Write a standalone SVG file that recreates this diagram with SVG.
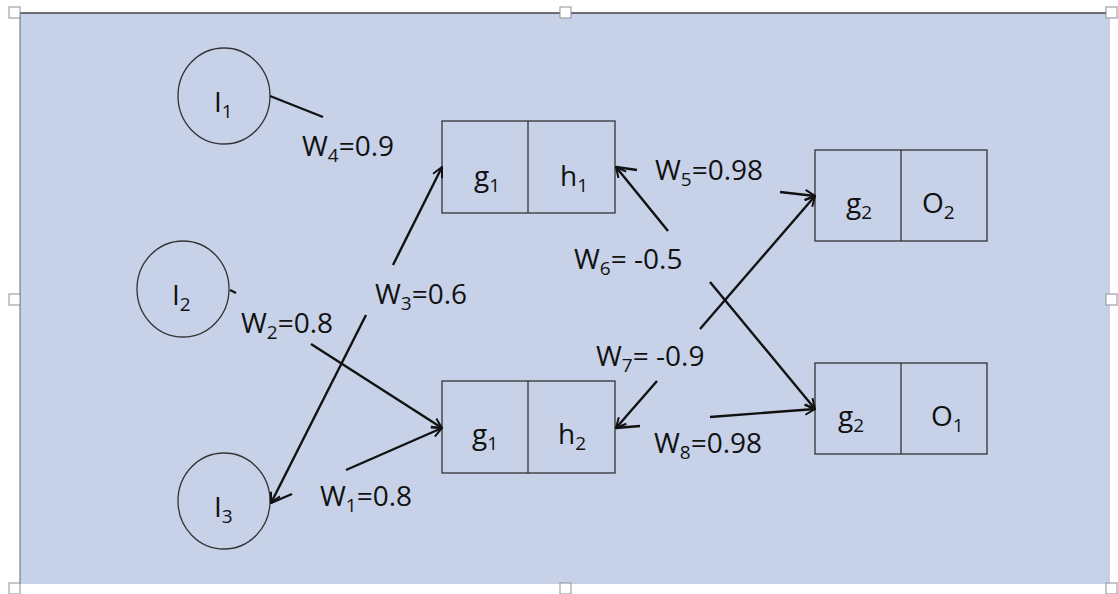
<svg xmlns="http://www.w3.org/2000/svg" width="1118" height="594" viewBox="0 0 1118 594">
<style>
.n{fill:none;stroke:#333;stroke-width:1.3}
.c line{stroke:#111;stroke-width:2.4}
text{font-family:"Open Sans","Liberation Sans",sans-serif;font-size:28px;fill:#111}
.s{font-size:19px}
.h{fill:#fff;stroke:#8a8f99;stroke-width:1}
</style>
<defs>
<marker id="a" viewBox="0 0 12 12" refX="11" refY="6" markerWidth="12" markerHeight="12" markerUnits="userSpaceOnUse" orient="auto">
<path d="M1,1 L11,6 L1,11" fill="none" stroke="#111" stroke-width="2"/>
</marker>
</defs>
<rect x="0" y="0" width="1118" height="594" fill="#fff"/>
<rect x="20" y="13" width="1090" height="571" fill="#c7d2e9"/>
<line x1="20" y1="13" x2="1110" y2="13" stroke="#444" stroke-width="1.5"/>
<line x1="20" y1="13" x2="20" y2="584" stroke="#666" stroke-width="1"/>
<g id="I1"><ellipse class="n" cx="224" cy="96" rx="46" ry="48"/><text x="214" y="112">I<tspan class="s" dy="6">1</tspan></text></g>
<g id="I2"><ellipse class="n" cx="183" cy="289" rx="46" ry="48"/><text x="172" y="305">I<tspan class="s" dy="6">2</tspan></text></g>
<g id="I3"><ellipse class="n" cx="224" cy="501" rx="46" ry="48"/><text x="214" y="517">I<tspan class="s" dy="6">3</tspan></text></g>
<g id="H1"><rect class="n" x="442" y="121" width="173" height="92"/><line class="n" x1="528" y1="121" x2="528" y2="213"/><text x="474" y="186">g<tspan class="s" dy="6">1</tspan></text><text x="560" y="186">h<tspan class="s" dy="6">1</tspan></text></g>
<g id="H2"><rect class="n" x="442" y="381" width="173" height="92"/><line class="n" x1="528" y1="381" x2="528" y2="473"/><text x="472" y="444">g<tspan class="s" dy="6">1</tspan></text><text x="558" y="444">h<tspan class="s" dy="6">2</tspan></text></g>
<g id="O2"><rect class="n" x="815" y="150" width="172" height="91"/><line class="n" x1="901" y1="150" x2="901" y2="241"/><text x="846" y="213">g<tspan class="s" dy="6">2</tspan></text><text x="922" y="213">O<tspan class="s" dy="6">2</tspan></text></g>
<g id="O1"><rect class="n" x="815" y="363" width="172" height="91"/><line class="n" x1="901" y1="363" x2="901" y2="454"/><text x="838" y="426">g<tspan class="s" dy="6">2</tspan></text><text x="931" y="426">O<tspan class="s" dy="6">1</tspan></text></g>
<g id="connectors" class="c">
<line x1="270" y1="96" x2="323" y2="117"/>
<line x1="230" y1="290" x2="236" y2="293"/>
<line x1="393" y1="265" x2="442" y2="167" marker-end="url(#a)"/>
<line x1="366" y1="315" x2="271" y2="503" marker-end="url(#a)"/>
<line x1="271" y1="503" x2="292" y2="494"/>
<line x1="311" y1="344" x2="442" y2="428" marker-end="url(#a)"/>
<line x1="346" y1="470" x2="442" y2="428" marker-end="url(#a)"/>
<line x1="668" y1="231" x2="616" y2="167" marker-end="url(#a)"/>
<line x1="616" y1="167" x2="637" y2="170"/>
<line x1="780" y1="192" x2="815" y2="196" marker-end="url(#a)"/>
<line x1="700" y1="329" x2="815" y2="196" marker-end="url(#a)"/>
<line x1="710" y1="282" x2="815" y2="409" marker-end="url(#a)"/>
<line x1="710" y1="417" x2="815" y2="409" marker-end="url(#a)"/>
<line x1="657" y1="381" x2="616" y2="428" marker-end="url(#a)"/>
<line x1="616" y1="428" x2="640" y2="426"/>
</g>
<g id="labels">
<text x="302" y="156">W<tspan class="s" dy="6">4</tspan><tspan dy="-6">=0.9</tspan></text>
<text x="375" y="304">W<tspan class="s" dy="6">3</tspan><tspan dy="-6">=0.6</tspan></text>
<text x="241" y="333">W<tspan class="s" dy="6">2</tspan><tspan dy="-6">=0.8</tspan></text>
<text x="320" y="506">W<tspan class="s" dy="6">1</tspan><tspan dy="-6">=0.8</tspan></text>
<text x="655" y="180">W<tspan class="s" dy="6">5</tspan><tspan dy="-6">=0.98</tspan></text>
<text x="574" y="269">W<tspan class="s" dy="6">6</tspan><tspan dy="-6">= -0.5</tspan></text>
<text x="596" y="366">W<tspan class="s" dy="6">7</tspan><tspan dy="-6">= -0.9</tspan></text>
<text x="654" y="453">W<tspan class="s" dy="6">8</tspan><tspan dy="-6">=0.98</tspan></text>
</g>
<g id="handles">
<rect class="h" x="9" y="7" width="11" height="11"/>
<rect class="h" x="560" y="7" width="11" height="11"/>
<rect class="h" x="1106" y="7" width="11" height="11"/>
<rect class="h" x="9" y="294" width="11" height="11"/>
<rect class="h" x="1106" y="294" width="11" height="11"/>
<rect class="h" x="9" y="583" width="11" height="11"/>
<rect class="h" x="560" y="583" width="11" height="11"/>
<rect class="h" x="1106" y="583" width="11" height="11"/>
</g>
</svg>
